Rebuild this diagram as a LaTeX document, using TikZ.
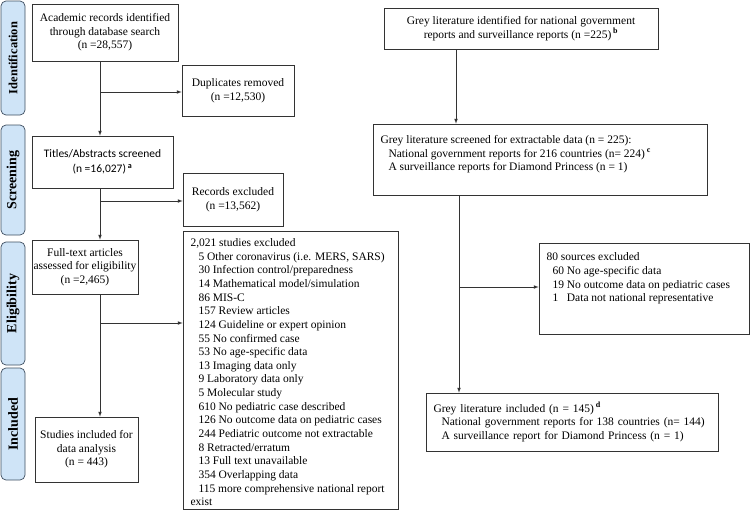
\documentclass[tikz,border=0pt]{standalone}
\usepackage{fontspec}
\setmainfont{Liberation Serif}
\newfontfamily\calibri{Carlito}
\usetikzlibrary{arrows,positioning}

\definecolor{phasefill}{RGB}{207,228,247}
\definecolor{phaseline}{RGB}{62,78,96}

% width, height, space above first line, text
\newcommand{\topbox}[4]{\parbox[t][#2][t]{#1}{\raggedright\leftskip=7.5pt\vspace*{#3}#4}}

\begin{document}
\begin{tikzpicture}[x=1pt,y=-1pt,>=latex,font=\fontsize{11.5}{13.65}\selectfont,
  box/.style={rectangle, draw=black!80, line width=0.7pt, inner sep=0pt, align=center},
  phase/.style={rectangle, rounded corners=5pt, draw=phaseline, fill=phasefill, line width=0.7pt,
    minimum height=24pt, rotate=90, font=\fontsize{14}{14}\selectfont\bfseries},
  link/.style={->, line width=0.7pt, black!80}]
        \useasboundingbox (0,0) rectangle (750,512);
        % phases
        \node[phase, minimum width=114pt, font=\fontsize{12.5}{13}\selectfont\bfseries] at (13,58) (ident) {Identification};
        \node[phase, minimum width=110pt] at (13,180) (screen) {Screening};
        \node[phase, minimum width=123pt] at (13,303.5) (elig) {Eligibility};
        \node[phase, minimum width=112pt] at (13,424) (incl) {Included};
        % academic records
        \node[box, minimum width=146pt, minimum height=57pt] at (105,32.5) (acad) {Academic records identified\\through database search\\(n =28,557)};
        \node[box, minimum width=112pt, minimum height=51pt] at (238,90.5) (dupl) {Duplicates removed\\(n =12,530)};
        \node[box, minimum width=141pt, minimum height=52pt, font=\calibri\fontsize{11.5}{14.5}\selectfont] at (102.5,162) (titles) {Titles/Abstracts screened\\(n =16,027)\,\textsuperscript{\textbf{a}}};
        \node[box, minimum width=100pt, minimum height=53pt] at (233,199.5) (recex) {Records excluded\\(n =13,562)};
        \node[box, minimum width=106pt, minimum height=54pt] at (85,267) (fulltext) {Full-text articles\\assessed for eligibility\\(n =2,465)};
        \node[box, minimum width=103pt, minimum height=65pt] at (86.5,449.5) (studies) {Studies included for\\data analysis\\(n = 443)};
        \node[box] at (290.5,370) (studex) {\topbox{215pt}{278pt}{7.5pt}{2,021 studies excluded\\
          \hspace*{8pt}5 Other coronavirus (i.e. MERS, SARS)\\
          \hspace*{8pt}30 Infection control/preparedness\\
          \hspace*{8pt}14 Mathematical model/simulation\\
          \hspace*{8pt}86 MIS-C\\
          \hspace*{8pt}157 Review articles\\
          \hspace*{8pt}124 Guideline or expert opinion\\
          \hspace*{8pt}55 No confirmed case\\
          \hspace*{8pt}53 No age-specific data\\
          \hspace*{8pt}13 Imaging data only\\
          \hspace*{8pt}9 Laboratory data only\\
          \hspace*{8pt}5 Molecular study\\
          \hspace*{8pt}610 No pediatric case described\\
          \hspace*{8pt}126 No outcome data on pediatric cases\\
          \hspace*{8pt}244 Pediatric outcome not extractable\\
          \hspace*{8pt}8 Retracted/erratum\\
          \hspace*{8pt}13 Full text unavailable\\
          \hspace*{8pt}354 Overlapping data\\
          \hspace*{8pt}115 more comprehensive national report\\
          exist}};
        % grey literature
        \node[box, minimum width=274pt, minimum height=41pt] at (521,28.5) (greyid) {Grey literature identified for national government\\reports and surveillance reports (n =225)\,\textsuperscript{\textbf{b}}};
        \node[box] at (540,159.5) (greyscr) {\topbox{334pt}{71pt}{11.5pt}{Grey literature screened for extractable data (n = 225):\\
          \hspace*{8pt}National government reports for 216 countries (n= 224)\,\textsuperscript{\textbf{c}}\\
          \hspace*{8pt}A surveillance reports for Diamond Princess (n = 1)}};
        \node[box] at (644,288.5) (srcex) {\topbox{210pt}{91pt}{10pt}{80 sources excluded\\
          \hspace*{6pt}60 No age-specific data\\
          \hspace*{6pt}19 No outcome data on pediatric cases\\
          \hspace*{6pt}\makebox[14.4pt][l]{1}Data not national representative}};
        \node[box, minimum width=292pt, minimum height=58pt, text width=277pt, align=left] at (572,422) (greyinc) {Grey literature included (n = 145)\,\textsuperscript{\textbf{d}}\\
          \hspace*{8pt}National government reports for 138 countries (n= 144)\\
          \hspace*{8pt}A surveillance report for Diamond Princess (n = 1)};
        % connectors
        \coordinate (mainx) at (100,0);
        \draw[link] (acad.south -| mainx) -- (titles.north -| mainx);
        \draw[link] (titles.south -| mainx) -- (fulltext.north -| mainx);
        \draw[link] (fulltext.south -| mainx) -- (studies.north -| mainx);
        \coordinate (br1) at (100,92);
        \coordinate (br2) at (100,201);
        \coordinate (br3) at (100,323);
        \draw[link] (br1) -- (br1 -| dupl.west);
        \draw[link] (br2) -- (br2 -| recex.west);
        \draw[link] (br3) -- (br3 -| studex.west);
        \coordinate (greyx) at (456,0);
        \coordinate (greyx2) at (459,0);
        \draw[link] (greyid.south -| greyx) -- (greyscr.north -| greyx);
        \draw[link] (greyscr.south -| greyx2) -- (greyinc.north -| greyx2);
        \coordinate (br4) at (459,287);
        \draw[link] (br4) -- (br4 -| srcex.west);
      \end{tikzpicture}
\end{document}
